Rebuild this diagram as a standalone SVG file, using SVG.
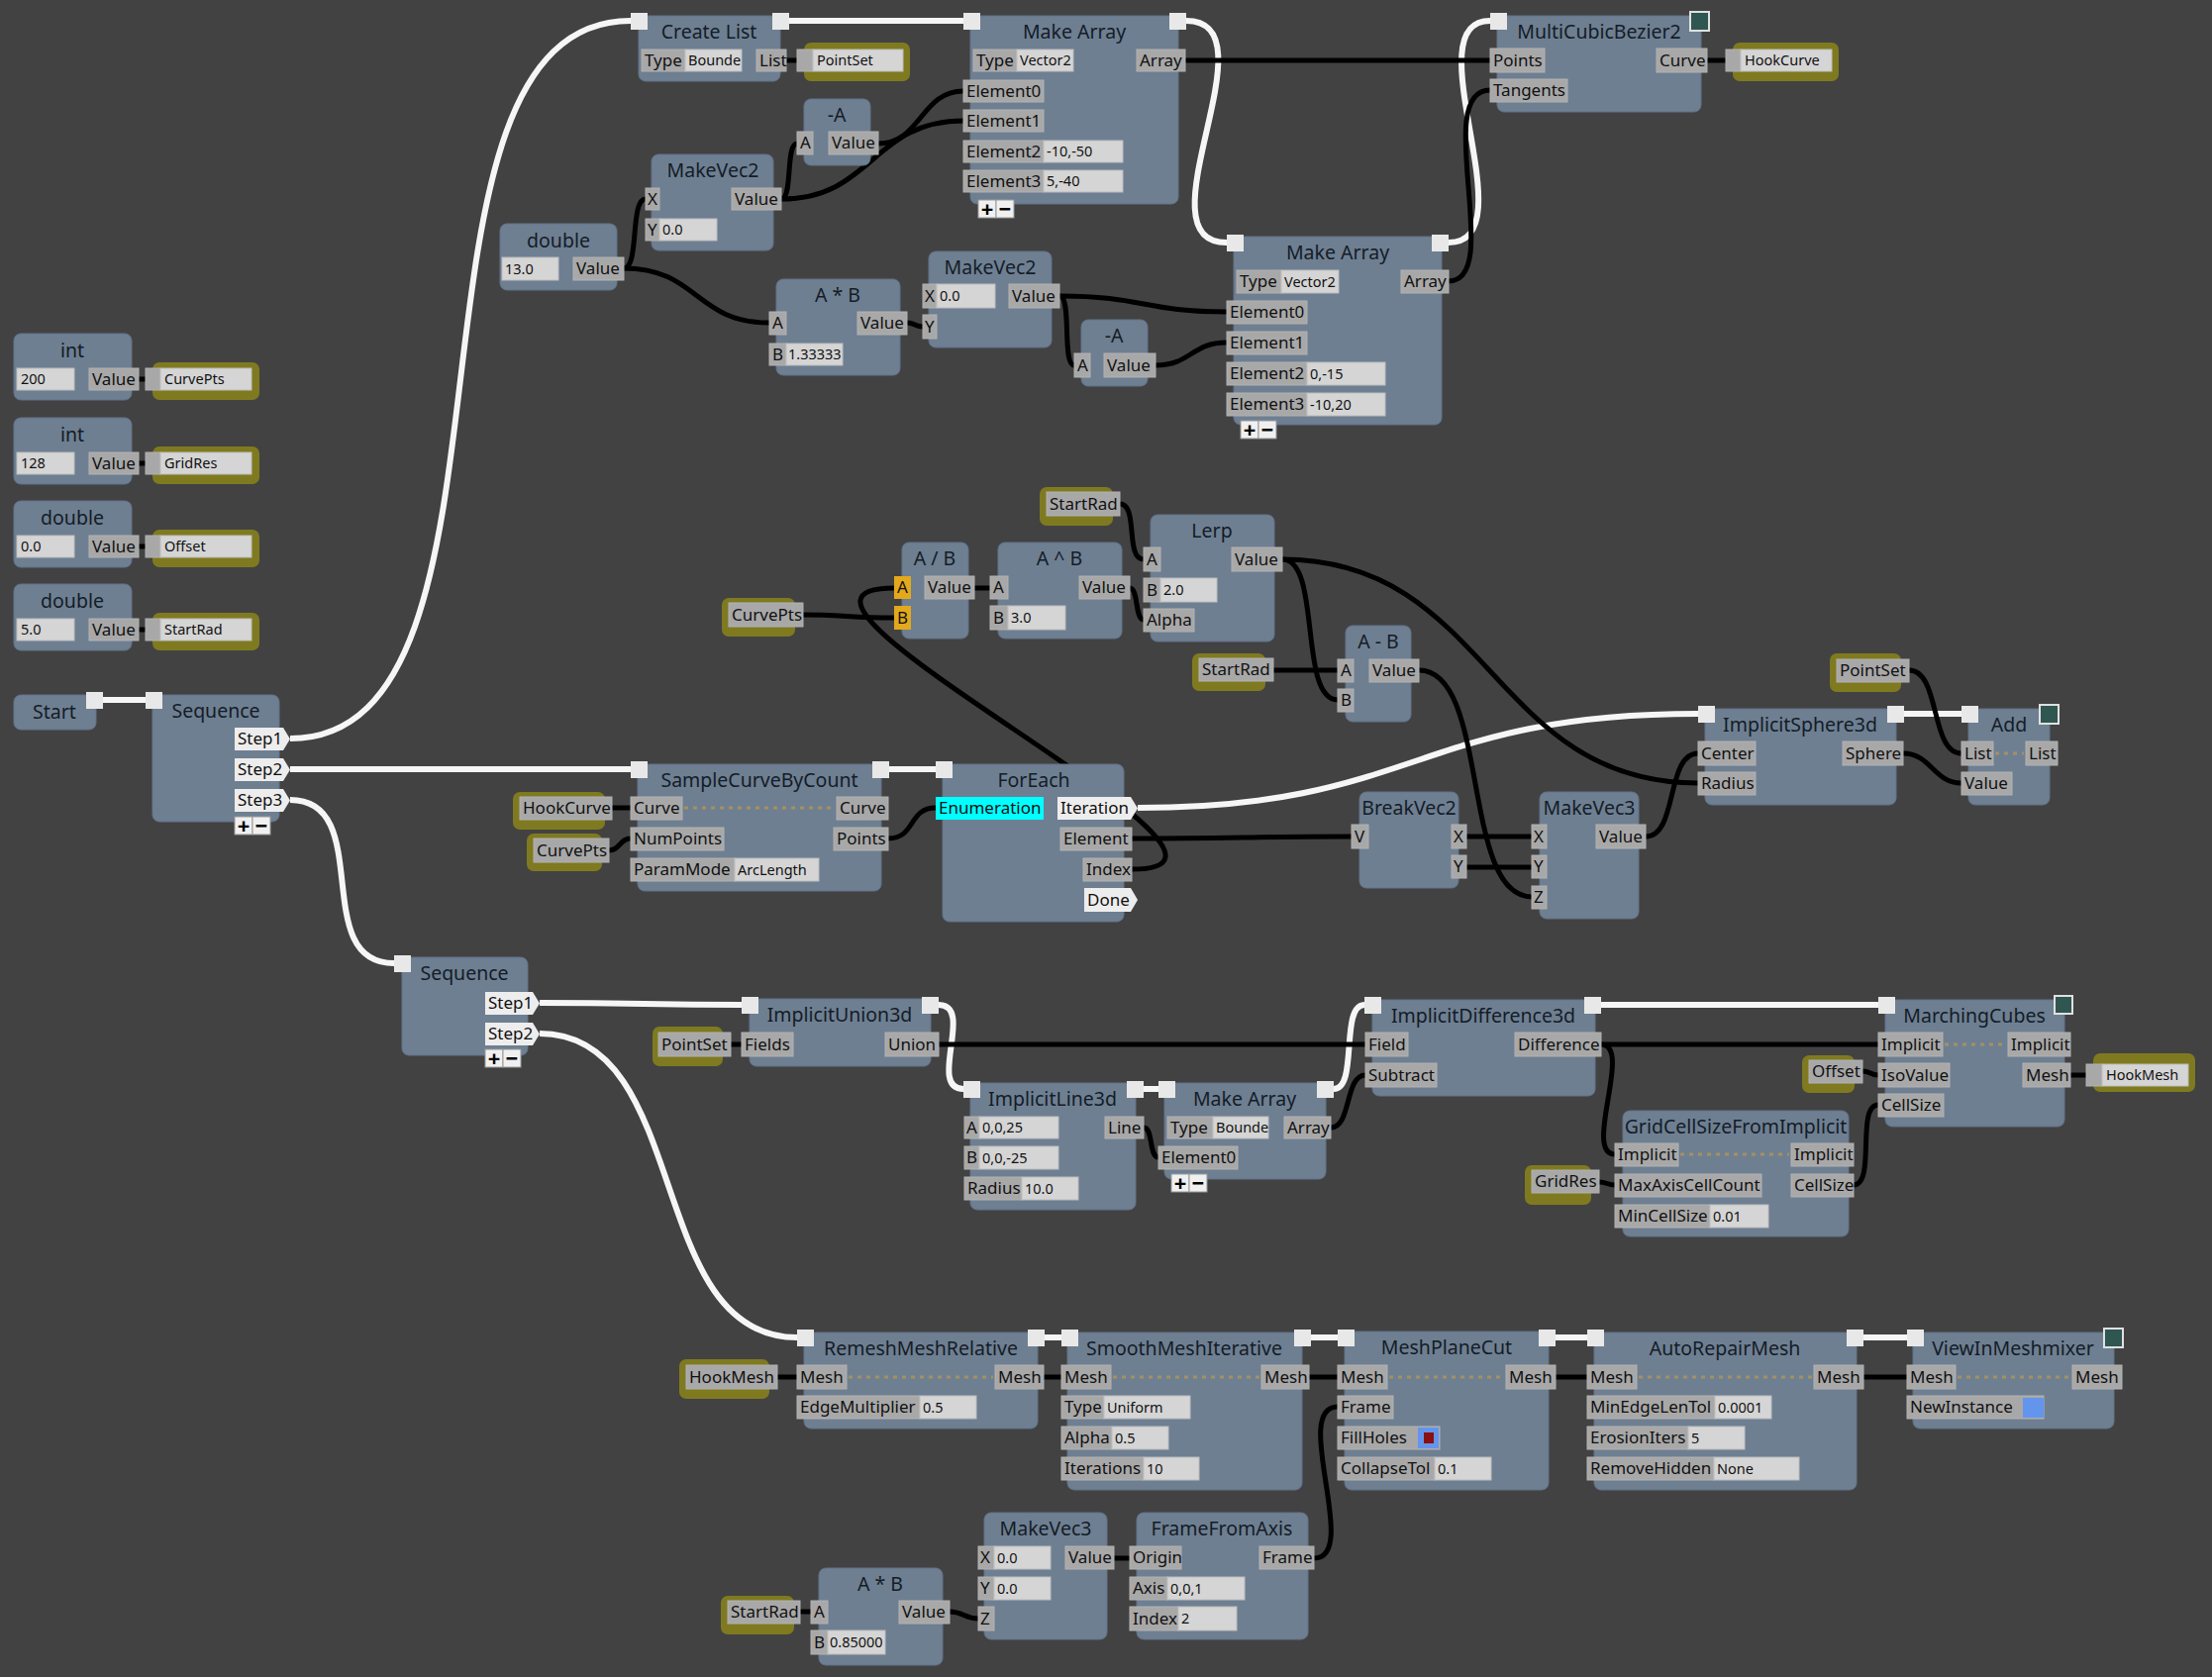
<svg xmlns="http://www.w3.org/2000/svg" width="2234" height="1694" viewBox="0 0 2234 1694">
<style>
.bg{fill:#424242}
.n{fill:#6e7f92;stroke:#62728a;stroke-width:1}
.p{fill:#a8a8a8;stroke:#b2b2b2;stroke-width:1}
.f{fill:#d5d5d5;stroke:#bdbdbd;stroke-width:1}
.x{fill:#e8e8e8}
.o{fill:#7f7a20}
.st{fill:#ededed}
.or{fill:#e3a81b}
.cy{fill:#00ffff}
.ew{fill:none;stroke:#f6f6f6;stroke-width:6}
.dw{fill:none;stroke:#000;stroke-width:5}
.dot{fill:none;stroke:#a39161;stroke-width:3;stroke-dasharray:4 5}
.tl{fill:#2f5651;stroke:#e0e0e0;stroke-width:2}
.pm{fill:#f0f0f0;stroke:#999;stroke-width:1}
text{font-family:"Noto Sans","Open Sans","DejaVu Sans",sans-serif;fill:#111}
.t{font-size:19.5px;text-anchor:middle;fill:#141c26}
.l{font-size:17px}
.v{font-size:14.5px}
.pt{font-size:22px;font-weight:bold;text-anchor:middle;fill:#000}
</style>
<rect class="bg" x="0" y="0" width="2234" height="1694"/>

<g id="connectors">
<g id="exec-wires">
<path class="ew" d="M104 707H147"/>
<path class="ew" d="M293 746C550 746 380 21 637 21"/>
<path class="ew" d="M293 777H637"/>
<path class="ew" d="M293 808C380 808 311 973 398 973"/>
<path class="ew" d="M796 21H973"/>
<path class="ew" d="M1198 21C1290 21 1147 245 1239 245"/>
<path class="ew" d="M1463 245C1545 245 1425 21 1505 21"/>
<path class="ew" d="M897 777H945"/>
<path class="ew" d="M1149 816C1430 816 1430 721 1715 721"/>
<path class="ew" d="M1923 721H1981"/>
<path class="ew" d="M545 1013C650 1013 650 1015 749 1015"/>
<path class="ew" d="M545 1044C700 1044 650 1351 805 1351"/>
<path class="ew" d="M948 1015C985 1015 936 1100 973 1100"/>
<path class="ew" d="M1155 1100H1170"/>
<path class="ew" d="M1347 1100C1372 1100 1353 1015 1378 1015"/>
<path class="ew" d="M1617 1015H1897"/>
<path class="ew" d="M1055 1351H1072M1323 1351H1351M1571 1351H1603M1882 1351H1926"/>
</g>
<g id="data-wires">
<path class="dw" d="M140 383H147M140 468H147M140 552H147M140 636H147"/>
<path class="dw" d="M794 61H805"/>
<path class="dw" d="M1197 61H1505"/>
<path class="dw" d="M1463 284C1520 284 1445 91 1505 91"/>
<path class="dw" d="M1724 61H1743"/>
<path class="dw" d="M630 271C646 271 636 201 652 201"/>
<path class="dw" d="M630 271C705 271 702 326 777 326"/>
<path class="dw" d="M789 201C801 201 793 145 805 145"/>
<path class="dw" d="M789 201C881 201 881 122 973 122"/>
<path class="dw" d="M887 145C930 145 930 92 973 92"/>
<path class="dw" d="M916 326C924 326 924 330 932 330"/>
<path class="dw" d="M1070 299C1155 299 1155 315 1239 315"/>
<path class="dw" d="M1070 299C1083 299 1072 369 1085 369"/>
<path class="dw" d="M1167 369C1203 369 1203 346 1239 346"/>
<path class="dw" d="M1131 509C1150 509 1136 565 1155 565"/>
<path class="dw" d="M984 594H1000"/>
<path class="dw" d="M1141 594C1150 594 1146 626 1155 626"/>
<path class="dw" d="M811 621C850 621 860 624 903 624"/>
<path class="dw" d="M1143 878C1323 878 723 594 903 594"/>
<path class="dw" d="M1143 847C1250 847 1260 845 1365 845"/>
<path class="dw" d="M1295 565C1505 565 1505 791 1715 791"/>
<path class="dw" d="M1295 565C1335 565 1311 707 1351 707"/>
<path class="dw" d="M1286 677H1351"/>
<path class="dw" d="M1433 677C1505 677 1475 906 1547 906"/>
<path class="dw" d="M1481 845H1547M1481 876H1547"/>
<path class="dw" d="M1662 845C1695 845 1682 761 1715 761"/>
<path class="dw" d="M1928 677C1960 677 1949 761 1981 761"/>
<path class="dw" d="M1922 761C1950 761 1953 791 1981 791"/>
<path class="dw" d="M618 816H637"/>
<path class="dw" d="M615 859C626 859 626 847 637 847"/>
<path class="dw" d="M897 847C925 847 917 816 945 816"/>
<path class="dw" d="M738 1055H749"/>
<path class="dw" d="M948 1055H1379"/>
<path class="dw" d="M1155 1139C1165 1139 1160 1169 1170 1169"/>
<path class="dw" d="M1344 1139C1365 1139 1358 1086 1379 1086"/>
<path class="dw" d="M1617 1055H1897"/>
<path class="dw" d="M1617 1055C1650 1055 1598 1166 1631 1166"/>
<path class="dw" d="M1881 1082C1889 1082 1889 1086 1897 1086"/>
<path class="dw" d="M2091 1086H2107"/>
<path class="dw" d="M1615 1194C1623 1194 1623 1197 1631 1197"/>
<path class="dw" d="M1872 1197C1895 1197 1874 1116 1897 1116"/>
<path class="dw" d="M785 1391H805M1054 1391H1072M1322 1391H1351M1571 1391H1603M1882 1391H1926"/>
<path class="dw" d="M1327 1574C1375 1574 1303 1421 1351 1421"/>
<path class="dw" d="M1125 1574H1141"/>
<path class="dw" d="M959 1628C973 1628 974 1635 988 1635"/>
<path class="dw" d="M808 1628H819"/>
</g>
</g>

<!-- Left column variables -->
<g id="int-200">
<rect class="n" x="14" y="337" width="119" height="67" rx="7"/>
<text class="t" x="73" y="361">int</text>
<rect class="f" x="17" y="372" width="58" height="22"/><text class="v" x="21" y="388">200</text>
<rect class="p" x="90" y="372" width="50" height="22"/><text class="l" x="93" y="389">Value</text>
</g>
<g id="set-curvepts">
<rect class="o" x="154" y="366" width="108" height="38" rx="7"/>
<rect class="p" x="147" y="372" width="15" height="22"/>
<rect class="f" x="162" y="372" width="92" height="22"/><text class="v" x="166" y="388">CurvePts</text>
</g>
<g id="int-128">
<rect class="n" x="14" y="422" width="119" height="67" rx="7"/>
<text class="t" x="73" y="446">int</text>
<rect class="f" x="17" y="457" width="58" height="22"/><text class="v" x="21" y="473">128</text>
<rect class="p" x="90" y="457" width="50" height="22"/><text class="l" x="93" y="474">Value</text>
</g>
<g id="set-gridres">
<rect class="o" x="154" y="451" width="108" height="38" rx="7"/>
<rect class="p" x="147" y="457" width="15" height="22"/>
<rect class="f" x="162" y="457" width="92" height="22"/><text class="v" x="166" y="473">GridRes</text>
</g>
<g id="double-offset">
<rect class="n" x="14" y="506" width="119" height="67" rx="7"/>
<text class="t" x="73" y="530">double</text>
<rect class="f" x="17" y="541" width="58" height="22"/><text class="v" x="21" y="557">0.0</text>
<rect class="p" x="90" y="541" width="50" height="22"/><text class="l" x="93" y="558">Value</text>
</g>
<g id="set-offset">
<rect class="o" x="154" y="535" width="108" height="38" rx="7"/>
<rect class="p" x="147" y="541" width="15" height="22"/>
<rect class="f" x="162" y="541" width="92" height="22"/><text class="v" x="166" y="557">Offset</text>
</g>
<g id="double-startrad">
<rect class="n" x="14" y="590" width="119" height="67" rx="7"/>
<text class="t" x="73" y="614">double</text>
<rect class="f" x="17" y="625" width="58" height="22"/><text class="v" x="21" y="641">5.0</text>
<rect class="p" x="90" y="625" width="50" height="22"/><text class="l" x="93" y="642">Value</text>
</g>
<g id="set-startrad">
<rect class="o" x="154" y="619" width="108" height="38" rx="7"/>
<rect class="p" x="147" y="625" width="15" height="22"/>
<rect class="f" x="162" y="625" width="92" height="22"/><text class="v" x="166" y="641">StartRad</text>
</g>

<g id="start">
<rect class="n" x="14" y="702" width="83" height="35" rx="7"/>
<text class="t" x="55" y="726">Start</text>
<rect class="x" x="87" y="699" width="17" height="17"/>
</g>
<g id="sequence-1">
<rect class="n" x="154" y="702" width="128" height="128" rx="7"/>
<text class="t" x="218" y="725">Sequence</text>
<rect class="x" x="147" y="699" width="17" height="17"/>
<polygon class="st" points="237,735 286,735 293,746.5 286,758 237,758"/><text class="l" x="240" y="752">Step1</text>
<polygon class="st" points="237,766 286,766 293,777.5 286,789 237,789"/><text class="l" x="240" y="783">Step2</text>
<polygon class="st" points="237,797 286,797 293,808.5 286,820 237,820"/><text class="l" x="240" y="814">Step3</text>
<rect class="pm" x="237" y="825" width="18" height="18"/><rect class="pm" x="255" y="825" width="18" height="18"/>
<text class="pt" x="246" y="842">+</text><text class="pt" x="264" y="842">−</text>
</g>

<!-- Top section -->
<g id="create-list">
<rect class="n" x="645" y="16" width="143" height="66" rx="7"/>
<text class="t" x="716" y="39">Create List</text>
<rect class="x" x="637" y="13" width="17" height="17"/><rect class="x" x="780" y="13" width="17" height="17"/>
<rect class="p" x="648" y="50" width="44" height="22"/><text class="l" x="651" y="67">Type</text>
<rect class="f" x="692" y="50" width="57" height="22"/><text class="v" x="695" y="66">Bounde</text>
<rect class="p" x="764" y="50" width="30" height="22"/><text class="l" x="767" y="67">List</text>
</g>
<g id="set-pointset">
<rect class="o" x="812" y="43" width="107" height="39" rx="7"/>
<rect class="p" x="805" y="50" width="16" height="22"/>
<rect class="f" x="821" y="50" width="91" height="22"/><text class="v" x="825" y="66">PointSet</text>
</g>
<g id="make-array-1">
<rect class="n" x="980" y="16" width="210" height="190" rx="7"/>
<text class="t" x="1085" y="39">Make Array</text>
<rect class="x" x="973" y="13" width="17" height="17"/><rect class="x" x="1181" y="13" width="17" height="17"/>
<rect class="p" x="983" y="50" width="44" height="22"/><text class="l" x="986" y="67">Type</text>
<rect class="f" x="1027" y="50" width="57" height="22"/><text class="v" x="1030" y="66">Vector2</text>
<rect class="p" x="1148" y="50" width="49" height="22"/><text class="l" x="1151" y="67">Array</text>
<rect class="p" x="973" y="81" width="81" height="22"/><text class="l" x="976" y="98">Element0</text>
<rect class="p" x="973" y="111" width="81" height="22"/><text class="l" x="976" y="128">Element1</text>
<rect class="p" x="973" y="142" width="81" height="22"/><text class="l" x="976" y="159">Element2</text>
<rect class="f" x="1054" y="142" width="80" height="22"/><text class="v" x="1057" y="158">-10,-50</text>
<rect class="p" x="973" y="172" width="81" height="22"/><text class="l" x="976" y="189">Element3</text>
<rect class="f" x="1054" y="172" width="80" height="22"/><text class="v" x="1057" y="188">5,-40</text>
<rect class="pm" x="988" y="202" width="18" height="18"/><rect class="pm" x="1006" y="202" width="18" height="18"/>
<text class="pt" x="997" y="219">+</text><text class="pt" x="1015" y="219">−</text>
</g>
<g id="neg-a-1">
<rect class="n" x="812" y="100" width="67" height="67" rx="7"/>
<text class="t" x="845" y="123">-A</text>
<rect class="p" x="805" y="133" width="16" height="23"/><text class="l" x="808" y="150">A</text>
<rect class="p" x="837" y="133" width="50" height="23"/><text class="l" x="840" y="150">Value</text>
</g>
<g id="makevec2-1">
<rect class="n" x="658" y="156" width="123" height="97" rx="7"/>
<text class="t" x="720" y="179">MakeVec2</text>
<rect class="p" x="652" y="190" width="14" height="22"/><text class="l" x="654" y="207">X</text>
<rect class="p" x="739" y="190" width="50" height="22"/><text class="l" x="742" y="207">Value</text>
<rect class="p" x="652" y="221" width="14" height="22"/><text class="l" x="654" y="238">Y</text>
<rect class="f" x="666" y="221" width="58" height="22"/><text class="v" x="669" y="237">0.0</text>
</g>
<g id="double-13">
<rect class="n" x="505" y="226" width="118" height="67" rx="7"/>
<text class="t" x="564" y="250">double</text>
<rect class="f" x="507" y="260" width="57" height="23"/><text class="v" x="510" y="277">13.0</text>
<rect class="p" x="579" y="260" width="51" height="23"/><text class="l" x="582" y="277">Value</text>
</g>
<g id="mul-1">
<rect class="n" x="784" y="282" width="125" height="97" rx="7"/>
<text class="t" x="846" y="305">A * B</text>
<rect class="p" x="777" y="315" width="17" height="23"/><text class="l" x="780" y="332">A</text>
<rect class="p" x="866" y="315" width="50" height="23"/><text class="l" x="869" y="332">Value</text>
<rect class="p" x="777" y="347" width="17" height="22"/><text class="l" x="780" y="364">B</text>
<rect class="f" x="794" y="347" width="57" height="22"/><text class="v" x="796" y="363">1.33333</text>
</g>
<g id="makevec2-2">
<rect class="n" x="938" y="254" width="124" height="97" rx="7"/>
<text class="t" x="1000" y="277">MakeVec2</text>
<rect class="p" x="932" y="287" width="14" height="24"/><text class="l" x="934" y="305">X</text>
<rect class="f" x="946" y="287" width="59" height="24"/><text class="v" x="949" y="304">0.0</text>
<rect class="p" x="1019" y="287" width="51" height="24"/><text class="l" x="1022" y="305">Value</text>
<rect class="p" x="932" y="318" width="14" height="24"/><text class="l" x="934" y="336">Y</text>
</g>
<g id="neg-a-2">
<rect class="n" x="1092" y="323" width="67" height="67" rx="7"/>
<text class="t" x="1125" y="346">-A</text>
<rect class="p" x="1085" y="357" width="16" height="24"/><text class="l" x="1088" y="375">A</text>
<rect class="p" x="1115" y="357" width="52" height="24"/><text class="l" x="1118" y="375">Value</text>
</g>
<g id="make-array-2">
<rect class="n" x="1246" y="239" width="210" height="190" rx="7"/>
<text class="t" x="1351" y="262">Make Array</text>
<rect class="x" x="1239" y="237" width="17" height="17"/><rect class="x" x="1446" y="237" width="17" height="17"/>
<rect class="p" x="1249" y="273" width="45" height="23"/><text class="l" x="1252" y="290">Type</text>
<rect class="f" x="1294" y="273" width="58" height="23"/><text class="v" x="1297" y="290">Vector2</text>
<rect class="p" x="1415" y="273" width="48" height="23"/><text class="l" x="1418" y="290">Array</text>
<rect class="p" x="1239" y="304" width="81" height="23"/><text class="l" x="1242" y="321">Element0</text>
<rect class="p" x="1239" y="335" width="81" height="23"/><text class="l" x="1242" y="352">Element1</text>
<rect class="p" x="1239" y="366" width="81" height="23"/><text class="l" x="1242" y="383">Element2</text>
<rect class="f" x="1320" y="366" width="79" height="23"/><text class="v" x="1323" y="383">0,-15</text>
<rect class="p" x="1239" y="397" width="81" height="23"/><text class="l" x="1242" y="414">Element3</text>
<rect class="f" x="1320" y="397" width="79" height="23"/><text class="v" x="1323" y="414">-10,20</text>
<rect class="pm" x="1253" y="425" width="18" height="18"/><rect class="pm" x="1271" y="425" width="18" height="18"/>
<text class="pt" x="1262" y="442">+</text><text class="pt" x="1280" y="442">−</text>
</g>
<g id="multicubicbezier2">
<rect class="n" x="1512" y="16" width="206" height="97" rx="7"/>
<text class="t" x="1615" y="39">MultiCubicBezier2</text>
<rect class="x" x="1505" y="13" width="17" height="17"/>
<rect class="tl" x="1707" y="12" width="19" height="19"/>
<rect class="p" x="1505" y="49" width="55" height="24"/><text class="l" x="1508" y="67">Points</text>
<rect class="p" x="1505" y="80" width="78" height="23"/><text class="l" x="1508" y="97">Tangents</text>
<rect class="p" x="1673" y="49" width="51" height="24"/><text class="l" x="1676" y="67">Curve</text>
</g>
<g id="set-hookcurve">
<rect class="o" x="1750" y="43" width="107" height="39" rx="7"/>
<rect class="p" x="1743" y="50" width="15" height="22"/>
<rect class="f" x="1758" y="50" width="92" height="22"/><text class="v" x="1762" y="66">HookCurve</text>
</g>

<!-- Middle section -->
<g id="get-startrad-1">
<rect class="o" x="1050" y="492" width="74" height="39" rx="7"/>
<rect class="p" x="1057" y="497" width="74" height="24"/><text class="l" x="1060" y="515">StartRad</text>
</g>
<g id="lerp">
<rect class="n" x="1162" y="520" width="125" height="128" rx="7"/>
<text class="t" x="1224" y="543">Lerp</text>
<rect class="p" x="1155" y="553" width="17" height="24"/><text class="l" x="1158" y="571">A</text>
<rect class="p" x="1244" y="553" width="51" height="24"/><text class="l" x="1247" y="571">Value</text>
<rect class="p" x="1155" y="584" width="17" height="24"/><text class="l" x="1158" y="602">B</text>
<rect class="f" x="1172" y="584" width="57" height="24"/><text class="v" x="1175" y="601">2.0</text>
<rect class="p" x="1155" y="615" width="51" height="23"/><text class="l" x="1158" y="632">Alpha</text>
</g>
<g id="div">
<rect class="n" x="911" y="548" width="67" height="97" rx="7"/>
<text class="t" x="944" y="571">A / B</text>
<rect class="or" x="903" y="582" width="17" height="23"/><text class="l" x="906" y="599">A</text>
<rect class="or" x="903" y="612" width="17" height="24"/><text class="l" x="906" y="630">B</text>
<rect class="p" x="934" y="582" width="50" height="23"/><text class="l" x="937" y="599">Value</text>
</g>
<g id="pow">
<rect class="n" x="1008" y="548" width="125" height="97" rx="7"/>
<text class="t" x="1070" y="571">A ^ B</text>
<rect class="p" x="1000" y="582" width="18" height="23"/><text class="l" x="1003" y="599">A</text>
<rect class="p" x="1000" y="612" width="18" height="24"/><text class="l" x="1003" y="630">B</text>
<rect class="f" x="1018" y="612" width="58" height="24"/><text class="v" x="1021" y="629">3.0</text>
<rect class="p" x="1090" y="582" width="51" height="23"/><text class="l" x="1093" y="599">Value</text>
</g>
<g id="get-curvepts-1">
<rect class="o" x="729" y="604" width="74" height="39" rx="7"/>
<rect class="p" x="736" y="609" width="75" height="24"/><text class="l" x="739" y="627">CurvePts</text>
</g>
<g id="sub">
<rect class="n" x="1359" y="632" width="66" height="97" rx="7"/>
<text class="t" x="1392" y="655">A - B</text>
<rect class="p" x="1351" y="666" width="16" height="23"/><text class="l" x="1354" y="683">A</text>
<rect class="p" x="1351" y="696" width="16" height="23"/><text class="l" x="1354" y="713">B</text>
<rect class="p" x="1383" y="666" width="50" height="23"/><text class="l" x="1386" y="683">Value</text>
</g>
<g id="get-startrad-2">
<rect class="o" x="1204" y="660" width="74" height="38" rx="7"/>
<rect class="p" x="1211" y="665" width="75" height="23"/><text class="l" x="1214" y="682">StartRad</text>
</g>
<g id="samplecurvebycount">
<rect class="n" x="644" y="772" width="246" height="128" rx="7"/>
<text class="t" x="767" y="795">SampleCurveByCount</text>
<rect class="x" x="637" y="769" width="17" height="17"/><rect class="x" x="881" y="769" width="17" height="17"/>
<rect class="p" x="637" y="805" width="52" height="23"/><text class="l" x="640" y="822">Curve</text>
<path class="dot" d="M691 816H843"/>
<rect class="p" x="845" y="805" width="52" height="23"/><text class="l" x="848" y="822">Curve</text>
<rect class="p" x="637" y="836" width="94" height="23"/><text class="l" x="640" y="853">NumPoints</text>
<rect class="p" x="842" y="836" width="55" height="23"/><text class="l" x="845" y="853">Points</text>
<rect class="p" x="637" y="867" width="105" height="23"/><text class="l" x="640" y="884">ParamMode</text>
<rect class="f" x="742" y="867" width="85" height="23"/><text class="v" x="745" y="884">ArcLength</text>
</g>
<g id="get-hookcurve">
<rect class="o" x="518" y="800" width="93" height="38" rx="7"/>
<rect class="p" x="525" y="805" width="93" height="23"/><text class="l" x="528" y="822">HookCurve</text>
</g>
<g id="get-curvepts-2">
<rect class="o" x="532" y="842" width="76" height="38" rx="7"/>
<rect class="p" x="539" y="847" width="76" height="24"/><text class="l" x="542" y="865">CurvePts</text>
</g>
<g id="foreach">
<rect class="n" x="952" y="772" width="183" height="159" rx="7"/>
<text class="t" x="1044" y="795">ForEach</text>
<rect class="x" x="945" y="769" width="17" height="17"/>
<rect class="cy" x="945" y="805" width="109" height="23"/><text class="l" x="948" y="822">Enumeration</text>
<polygon class="st" points="1068,805 1142,805 1149,816.5 1142,828 1068,828"/><text class="l" x="1071" y="822">Iteration</text>
<rect class="p" x="1071" y="836" width="72" height="23"/><text class="l" x="1074" y="853">Element</text>
<rect class="p" x="1094" y="867" width="49" height="23"/><text class="l" x="1097" y="884">Index</text>
<polygon class="st" points="1095,897 1142,897 1149,909 1142,921 1095,921"/><text class="l" x="1098" y="915">Done</text>
</g>
<g id="breakvec2">
<rect class="n" x="1373" y="800" width="100" height="97" rx="7"/>
<text class="t" x="1423" y="823">BreakVec2</text>
<rect class="p" x="1365" y="833" width="17" height="24"/><text class="l" x="1368" y="851">V</text>
<rect class="p" x="1466" y="833" width="15" height="24"/><text class="l" x="1468" y="851">X</text>
<rect class="p" x="1466" y="864" width="15" height="23"/><text class="l" x="1468" y="881">Y</text>
</g>
<g id="makevec3-1">
<rect class="n" x="1555" y="800" width="100" height="128" rx="7"/>
<text class="t" x="1605" y="823">MakeVec3</text>
<rect class="p" x="1547" y="833" width="15" height="24"/><text class="l" x="1549" y="851">X</text>
<rect class="p" x="1547" y="864" width="15" height="23"/><text class="l" x="1549" y="881">Y</text>
<rect class="p" x="1547" y="895" width="15" height="23"/><text class="l" x="1549" y="912">Z</text>
<rect class="p" x="1612" y="833" width="50" height="24"/><text class="l" x="1615" y="851">Value</text>
</g>
<g id="implicitsphere3d">
<rect class="n" x="1722" y="716" width="193" height="97" rx="7"/>
<text class="t" x="1818" y="739">ImplicitSphere3d</text>
<rect class="x" x="1715" y="713" width="17" height="17"/><rect class="x" x="1906" y="713" width="17" height="17"/>
<rect class="p" x="1715" y="749" width="58" height="24"/><text class="l" x="1718" y="767">Center</text>
<rect class="p" x="1715" y="780" width="58" height="23"/><text class="l" x="1718" y="797">Radius</text>
<rect class="p" x="1861" y="749" width="61" height="24"/><text class="l" x="1864" y="767">Sphere</text>
</g>
<g id="get-pointset-1">
<rect class="o" x="1848" y="660" width="72" height="39" rx="7"/>
<rect class="p" x="1855" y="666" width="73" height="23"/><text class="l" x="1858" y="683">PointSet</text>
</g>
<g id="add">
<rect class="n" x="1988" y="716" width="82" height="97" rx="7"/>
<text class="t" x="2029" y="739">Add</text>
<rect class="x" x="1981" y="713" width="17" height="17"/>
<rect class="tl" x="2060" y="712" width="19" height="19"/>
<rect class="p" x="1981" y="749" width="32" height="24"/><text class="l" x="1984" y="767">List</text>
<path class="dot" d="M2015 761H2044"/>
<rect class="p" x="2046" y="749" width="32" height="24"/><text class="l" x="2049" y="767">List</text>
<rect class="p" x="1981" y="780" width="51" height="23"/><text class="l" x="1984" y="797">Value</text>
</g>

<!-- Row 3 -->
<g id="sequence-2">
<rect class="n" x="406" y="967" width="127" height="99" rx="7"/>
<text class="t" x="469" y="990">Sequence</text>
<rect class="x" x="398" y="965" width="17" height="17"/>
<polygon class="st" points="490,1002 538,1002 545,1013.5 538,1025 490,1025"/><text class="l" x="493" y="1019">Step1</text>
<polygon class="st" points="490,1033 538,1033 545,1044.5 538,1056 490,1056"/><text class="l" x="493" y="1050">Step2</text>
<rect class="pm" x="490" y="1060" width="18" height="18"/><rect class="pm" x="508" y="1060" width="18" height="18"/>
<text class="pt" x="499" y="1077">+</text><text class="pt" x="517" y="1077">−</text>
</g>
<g id="implicitunion3d">
<rect class="n" x="757" y="1009" width="183" height="68" rx="7"/>
<text class="t" x="848" y="1032">ImplicitUnion3d</text>
<rect class="x" x="749" y="1007" width="17" height="17"/><rect class="x" x="931" y="1007" width="17" height="17"/>
<rect class="p" x="749" y="1043" width="52" height="24"/><text class="l" x="752" y="1061">Fields</text>
<rect class="p" x="894" y="1043" width="54" height="24"/><text class="l" x="897" y="1061">Union</text>
</g>
<g id="get-pointset-2">
<rect class="o" x="659" y="1037" width="71" height="40" rx="7"/>
<rect class="p" x="665" y="1043" width="73" height="24"/><text class="l" x="668" y="1061">PointSet</text>
</g>
<g id="implicitline3d">
<rect class="n" x="980" y="1094" width="167" height="128" rx="7"/>
<text class="t" x="1063" y="1117">ImplicitLine3d</text>
<rect class="x" x="973" y="1092" width="17" height="17"/><rect class="x" x="1138" y="1092" width="17" height="17"/>
<rect class="p" x="974" y="1128" width="15" height="22"/><text class="l" x="976" y="1145">A</text>
<rect class="f" x="989" y="1128" width="80" height="22"/><text class="v" x="992" y="1144">0,0,25</text>
<rect class="p" x="974" y="1158" width="15" height="23"/><text class="l" x="976" y="1175">B</text>
<rect class="f" x="989" y="1158" width="80" height="23"/><text class="v" x="992" y="1175">0,0,-25</text>
<rect class="p" x="974" y="1189" width="58" height="23"/><text class="l" x="977" y="1206">Radius</text>
<rect class="f" x="1032" y="1189" width="57" height="23"/><text class="v" x="1035" y="1206">10.0</text>
<rect class="p" x="1116" y="1128" width="39" height="22"/><text class="l" x="1119" y="1145">Line</text>
</g>
<g id="make-array-3">
<rect class="n" x="1176" y="1094" width="163" height="97" rx="7"/>
<text class="t" x="1257" y="1117">Make Array</text>
<rect class="x" x="1170" y="1092" width="17" height="17"/><rect class="x" x="1330" y="1092" width="17" height="17"/>
<rect class="p" x="1179" y="1128" width="46" height="22"/><text class="l" x="1182" y="1145">Type</text>
<rect class="f" x="1225" y="1128" width="56" height="22"/><text class="v" x="1228" y="1144">Bounde</text>
<rect class="p" x="1297" y="1128" width="47" height="22"/><text class="l" x="1300" y="1145">Array</text>
<rect class="p" x="1170" y="1158" width="80" height="23"/><text class="l" x="1173" y="1175">Element0</text>
<rect class="pm" x="1183" y="1186" width="18" height="18"/><rect class="pm" x="1201" y="1186" width="18" height="18"/>
<text class="pt" x="1192" y="1203">+</text><text class="pt" x="1210" y="1203">−</text>
</g>
<g id="implicitdifference3d">
<rect class="n" x="1386" y="1010" width="225" height="97" rx="7"/>
<text class="t" x="1498" y="1033">ImplicitDifference3d</text>
<rect class="x" x="1378" y="1007" width="17" height="17"/><rect class="x" x="1600" y="1007" width="17" height="17"/>
<rect class="p" x="1379" y="1043" width="43" height="24"/><text class="l" x="1382" y="1061">Field</text>
<rect class="p" x="1379" y="1074" width="72" height="24"/><text class="l" x="1382" y="1092">Subtract</text>
<rect class="p" x="1530" y="1043" width="87" height="24"/><text class="l" x="1533" y="1061">Difference</text>
</g>
<g id="marchingcubes">
<rect class="n" x="1904" y="1010" width="181" height="128" rx="7"/>
<text class="t" x="1994" y="1033">MarchingCubes</text>
<rect class="x" x="1897" y="1007" width="17" height="17"/>
<rect class="tl" x="2075" y="1006" width="18" height="18"/>
<rect class="p" x="1897" y="1043" width="65" height="24"/><text class="l" x="1900" y="1061">Implicit</text>
<path class="dot" d="M1964 1055H2026"/>
<rect class="p" x="2028" y="1043" width="63" height="24"/><text class="l" x="2031" y="1061">Implicit</text>
<rect class="p" x="1897" y="1074" width="72" height="24"/><text class="l" x="1900" y="1092">IsoValue</text>
<rect class="p" x="2043" y="1074" width="48" height="24"/><text class="l" x="2046" y="1092">Mesh</text>
<rect class="p" x="1897" y="1105" width="66" height="23"/><text class="l" x="1900" y="1122">CellSize</text>
</g>
<g id="get-offset">
<rect class="o" x="1820" y="1066" width="53" height="38" rx="7"/>
<rect class="p" x="1827" y="1071" width="54" height="23"/><text class="l" x="1830" y="1088">Offset</text>
</g>
<g id="set-hookmesh">
<rect class="o" x="2114" y="1064" width="103" height="39" rx="7"/>
<rect class="p" x="2107" y="1075" width="16" height="22"/>
<rect class="f" x="2123" y="1075" width="87" height="22"/><text class="v" x="2127" y="1091">HookMesh</text>
</g>
<g id="gridcellsizefromimplicit">
<rect class="n" x="1639" y="1122" width="228" height="127" rx="7"/>
<text class="t" x="1753" y="1145">GridCellSizeFromImplicit</text>
<rect class="p" x="1631" y="1155" width="64" height="23"/><text class="l" x="1634" y="1172">Implicit</text>
<path class="dot" d="M1697 1166H1807"/>
<rect class="p" x="1809" y="1155" width="63" height="23"/><text class="l" x="1812" y="1172">Implicit</text>
<rect class="p" x="1631" y="1186" width="148" height="23"/><text class="l" x="1634" y="1203">MaxAxisCellCount</text>
<rect class="p" x="1809" y="1186" width="63" height="23"/><text class="l" x="1812" y="1203">CellSize</text>
<rect class="p" x="1631" y="1217" width="96" height="23"/><text class="l" x="1634" y="1234">MinCellSize</text>
<rect class="f" x="1727" y="1217" width="59" height="23"/><text class="v" x="1730" y="1234">0.01</text>
</g>
<g id="get-gridres">
<rect class="o" x="1540" y="1177" width="67" height="40" rx="7"/>
<rect class="p" x="1547" y="1182" width="68" height="23"/><text class="l" x="1550" y="1199">GridRes</text>
</g>

<!-- Bottom row -->
<g id="get-hookmesh">
<rect class="o" x="686" y="1373" width="91" height="40" rx="7"/>
<rect class="p" x="693" y="1379" width="92" height="24"/><text class="l" x="696" y="1397">HookMesh</text>
</g>
<g id="remeshmeshrelative">
<rect class="n" x="812" y="1346" width="236" height="97" rx="7"/>
<text class="t" x="930" y="1369">RemeshMeshRelative</text>
<rect class="x" x="805" y="1343" width="17" height="17"/><rect class="x" x="1038" y="1343" width="17" height="17"/>
<rect class="p" x="805" y="1379" width="50" height="24"/><text class="l" x="808" y="1397">Mesh</text>
<path class="dot" d="M857 1391H1003"/>
<rect class="p" x="1005" y="1379" width="49" height="24"/><text class="l" x="1008" y="1397">Mesh</text>
<rect class="p" x="805" y="1410" width="124" height="23"/><text class="l" x="808" y="1427">EdgeMultiplier</text>
<rect class="f" x="929" y="1410" width="57" height="23"/><text class="v" x="932" y="1427">0.5</text>
</g>
<g id="smoothmeshiterative">
<rect class="n" x="1078" y="1346" width="237" height="159" rx="7"/>
<text class="t" x="1196" y="1369">SmoothMeshIterative</text>
<rect class="x" x="1072" y="1343" width="17" height="17"/><rect class="x" x="1307" y="1343" width="17" height="17"/>
<rect class="p" x="1072" y="1379" width="50" height="24"/><text class="l" x="1075" y="1397">Mesh</text>
<path class="dot" d="M1124 1391H1272"/>
<rect class="p" x="1274" y="1379" width="48" height="24"/><text class="l" x="1277" y="1397">Mesh</text>
<rect class="p" x="1072" y="1410" width="43" height="23"/><text class="l" x="1075" y="1427">Type</text>
<rect class="f" x="1115" y="1410" width="87" height="23"/><text class="v" x="1118" y="1427">Uniform</text>
<rect class="p" x="1072" y="1441" width="51" height="23"/><text class="l" x="1075" y="1458">Alpha</text>
<rect class="f" x="1123" y="1441" width="57" height="23"/><text class="v" x="1126" y="1458">0.5</text>
<rect class="p" x="1072" y="1472" width="83" height="23"/><text class="l" x="1075" y="1489">Iterations</text>
<rect class="f" x="1155" y="1472" width="56" height="23"/><text class="v" x="1158" y="1489">10</text>
</g>
<g id="meshplanecut">
<rect class="n" x="1358" y="1345" width="206" height="160" rx="7"/>
<text class="t" x="1461" y="1368">MeshPlaneCut</text>
<rect class="x" x="1351" y="1343" width="17" height="17"/><rect class="x" x="1554" y="1343" width="17" height="17"/>
<rect class="p" x="1351" y="1379" width="50" height="24"/><text class="l" x="1354" y="1397">Mesh</text>
<path class="dot" d="M1403 1391H1519"/>
<rect class="p" x="1521" y="1379" width="50" height="24"/><text class="l" x="1524" y="1397">Mesh</text>
<rect class="p" x="1351" y="1410" width="56" height="23"/><text class="l" x="1354" y="1427">Frame</text>
<rect class="p" x="1351" y="1441" width="103" height="23"/><text class="l" x="1354" y="1458">FillHoles</text>
<rect x="1432" y="1442" width="21" height="21" fill="#6495ed"/>
<rect x="1438" y="1447" width="10" height="11" fill="#8b1010"/>
<rect class="p" x="1351" y="1472" width="98" height="23"/><text class="l" x="1354" y="1489">CollapseTol</text>
<rect class="f" x="1449" y="1472" width="57" height="23"/><text class="v" x="1452" y="1489">0.1</text>
</g>
<g id="autorepairmesh">
<rect class="n" x="1610" y="1346" width="265" height="159" rx="7"/>
<text class="t" x="1742" y="1369">AutoRepairMesh</text>
<rect class="x" x="1603" y="1343" width="17" height="17"/><rect class="x" x="1865" y="1343" width="17" height="17"/>
<rect class="p" x="1603" y="1379" width="50" height="24"/><text class="l" x="1606" y="1397">Mesh</text>
<path class="dot" d="M1655 1391H1830"/>
<rect class="p" x="1832" y="1379" width="50" height="24"/><text class="l" x="1835" y="1397">Mesh</text>
<rect class="p" x="1603" y="1410" width="129" height="23"/><text class="l" x="1606" y="1427">MinEdgeLenTol</text>
<rect class="f" x="1732" y="1410" width="57" height="23"/><text class="v" x="1735" y="1427">0.0001</text>
<rect class="p" x="1603" y="1441" width="102" height="23"/><text class="l" x="1606" y="1458">ErosionIters</text>
<rect class="f" x="1705" y="1441" width="57" height="23"/><text class="v" x="1708" y="1458">5</text>
<rect class="p" x="1603" y="1472" width="128" height="23"/><text class="l" x="1606" y="1489">RemoveHidden</text>
<rect class="f" x="1731" y="1472" width="86" height="23"/><text class="v" x="1734" y="1489">None</text>
</g>
<g id="viewinmeshmixer">
<rect class="n" x="1932" y="1346" width="203" height="97" rx="7"/>
<text class="t" x="2033" y="1369">ViewInMeshmixer</text>
<rect class="x" x="1926" y="1343" width="17" height="17"/>
<rect class="tl" x="2125" y="1342" width="19" height="19"/>
<rect class="p" x="1926" y="1379" width="49" height="24"/><text class="l" x="1929" y="1397">Mesh</text>
<path class="dot" d="M1977 1391H2091"/>
<rect class="p" x="2093" y="1379" width="50" height="24"/><text class="l" x="2096" y="1397">Mesh</text>
<rect class="p" x="1926" y="1410" width="138" height="23"/><text class="l" x="1929" y="1427">NewInstance</text>
<rect x="2043" y="1412" width="21" height="20" fill="#6495ed"/>
</g>
<g id="makevec3-2">
<rect class="n" x="994" y="1528" width="124" height="128" rx="7"/>
<text class="t" x="1056" y="1551">MakeVec3</text>
<rect class="p" x="988" y="1562" width="16" height="23"/><text class="l" x="990" y="1579">X</text>
<rect class="f" x="1004" y="1562" width="57" height="23"/><text class="v" x="1007" y="1579">0.0</text>
<rect class="p" x="988" y="1593" width="16" height="23"/><text class="l" x="990" y="1610">Y</text>
<rect class="f" x="1004" y="1593" width="57" height="23"/><text class="v" x="1007" y="1610">0.0</text>
<rect class="p" x="988" y="1623" width="16" height="24"/><text class="l" x="990" y="1641">Z</text>
<rect class="p" x="1076" y="1562" width="49" height="23"/><text class="l" x="1079" y="1579">Value</text>
</g>
<g id="framefromaxis">
<rect class="n" x="1148" y="1528" width="173" height="128" rx="7"/>
<text class="t" x="1234" y="1551">FrameFromAxis</text>
<rect class="p" x="1141" y="1562" width="52" height="23"/><text class="l" x="1144" y="1579">Origin</text>
<rect class="p" x="1272" y="1562" width="55" height="23"/><text class="l" x="1275" y="1579">Frame</text>
<rect class="p" x="1141" y="1593" width="38" height="23"/><text class="l" x="1144" y="1610">Axis</text>
<rect class="f" x="1179" y="1593" width="78" height="23"/><text class="v" x="1182" y="1610">0,0,1</text>
<rect class="p" x="1141" y="1623" width="49" height="24"/><text class="l" x="1144" y="1641">Index</text>
<rect class="f" x="1190" y="1623" width="59" height="24"/><text class="v" x="1193" y="1640">2</text>
</g>
<g id="mul-2">
<rect class="n" x="827" y="1584" width="125" height="98" rx="7"/>
<text class="t" x="889" y="1607">A * B</text>
<rect class="p" x="819" y="1617" width="17" height="23"/><text class="l" x="822" y="1634">A</text>
<rect class="p" x="908" y="1617" width="51" height="23"/><text class="l" x="911" y="1634">Value</text>
<rect class="p" x="819" y="1647" width="17" height="24"/><text class="l" x="822" y="1665">B</text>
<rect class="f" x="836" y="1647" width="58" height="24"/><text class="v" x="838" y="1664">0.85000</text>
</g>
<g id="get-startrad-3">
<rect class="o" x="728" y="1612" width="74" height="39" rx="7"/>
<rect class="p" x="735" y="1617" width="73" height="23"/><text class="l" x="738" y="1634">StartRad</text>
</g>
</svg>
